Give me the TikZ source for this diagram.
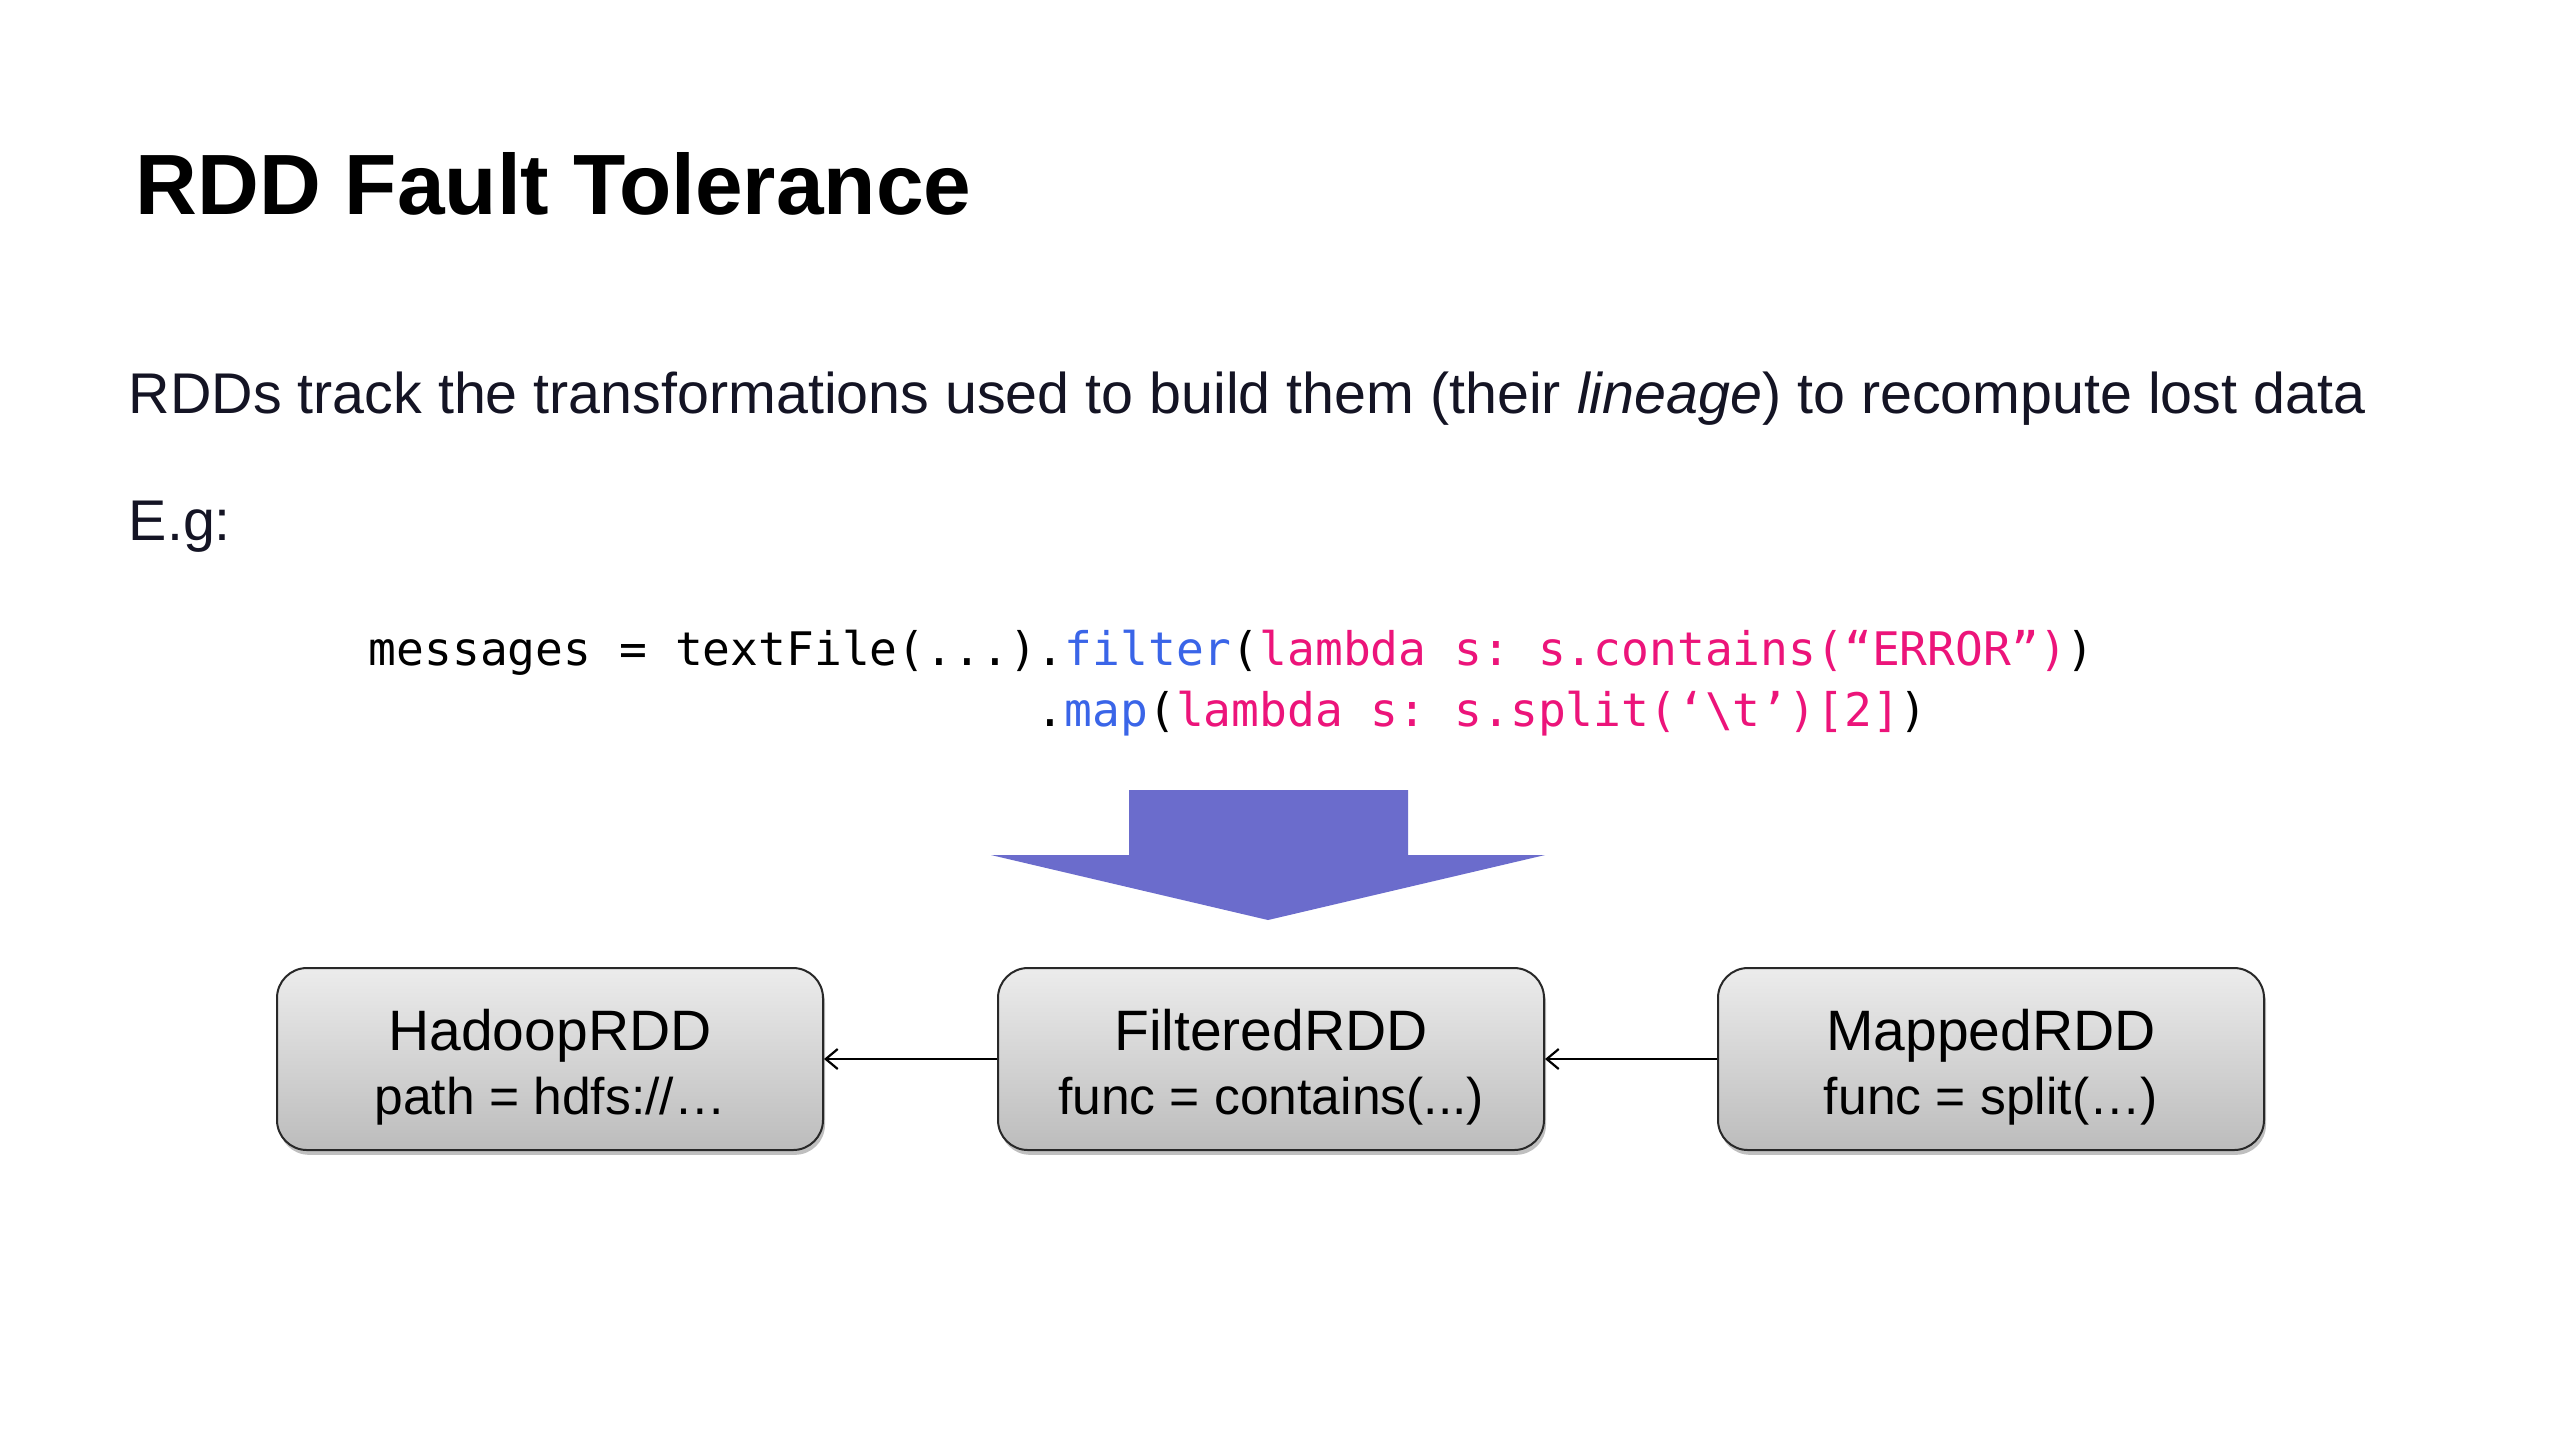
\documentclass[tikz,border=0pt]{standalone}
\usepackage{fontspec}
\setmainfont{Liberation Sans}
\setsansfont{Liberation Sans}
\setmonofont{DejaVu Sans Mono}
\usetikzlibrary{arrows.meta,shadows}
\definecolor{codeblue}{RGB}{58,101,232}
\definecolor{codepink}{RGB}{236,20,122}
\definecolor{bodyink}{RGB}{20,20,36}
\definecolor{arrowfill}{RGB}{107,108,204}
\definecolor{boxtop}{RGB}{236,236,236}
\definecolor{boxbot}{RGB}{188,188,188}
\definecolor{boxline}{RGB}{40,40,40}
\begin{document}
\begin{tikzpicture}[x=0.25pt,y=-0.25pt,
  plaintext/.style={anchor=base west, inner sep=0pt},
  titletext/.style={plaintext, font=\fontsize{21.4}{25}\selectfont\bfseries},
  bodytext/.style={plaintext, text=bodyink, font=\fontsize{14.35}{17}\selectfont},
  codetext/.style={plaintext, font=\ttfamily\fontsize{11.56}{14}\selectfont},
  rddbox/.style={draw=boxline, line width=0.5pt, rounded corners=7.5pt,
    top color=boxtop, bottom color=boxbot,
    minimum width=136.5pt, minimum height=45.5pt, inner sep=0pt,
    drop shadow={shadow xshift=0.5pt, shadow yshift=-1.2pt, opacity=0.25, fill=black}},
  rddname/.style={anchor=base, inner sep=0pt, font=\fontsize{14.25}{17}\selectfont},
  rddfunc/.style={anchor=base, inner sep=0pt, font=\fontsize{12.9}{15}\selectfont},
  conn/.style={line width=0.55pt, -{Straight Barb[length=3pt,width=5pt]}},
  bigarrow/.style={fill=arrowfill}
]
\useasboundingbox (0,0) rectangle (2560,1440);
\fill[white] (0,0) rectangle (2560,1440);

\node[titletext] (title) at (135,214) {RDD Fault Tolerance};
\node[bodytext] (body) at (128,413) {RDDs track the transformations used to build them (their \textit{lineage}) to recompute lost data};
\node[bodytext] (eg) at (128,540) {E.g:};

\node[codetext] (code1) at (368,665) {messages = textFile(...).\textcolor{codeblue}{filter}(\textcolor{codepink}{lambda s: s.contains(“ERROR”)})};
\node[codetext] (code2) at (368,726) {\phantom{messages = textFile(...)}.\textcolor{codeblue}{map}(\textcolor{codepink}{lambda s: s.split(‘\textbackslash t’)[2]})};

\fill[bigarrow] (1129,790) -- (1408,790) -- (1408,855) -- (1545,855) -- (1268,920) -- (991,855) -- (1129,855) -- cycle;

\node[rddbox] (hadoop) at (550,1059) {};
\node[rddbox] (filtered) at (1271,1059) {};
\node[rddbox] (mapped) at (1991,1059) {};

\node[rddname] (hadoopname) at (550,1050) {HadoopRDD};
\node[rddfunc] (hadoopfunc) at (550,1114) {path = hdfs://…};
\node[rddname] (filteredname) at (1271,1050) {FilteredRDD};
\node[rddfunc] (filteredfunc) at (1271,1114) {func = contains(...)};
\node[rddname] (mappedname) at (1991,1050) {MappedRDD};
\node[rddfunc] (mappedfunc) at (1991,1114) {func = split(…)};

\draw[conn] (filtered.west) -- (hadoop.east);
\draw[conn] (mapped.west) -- (filtered.east);
\end{tikzpicture}
\end{document}
